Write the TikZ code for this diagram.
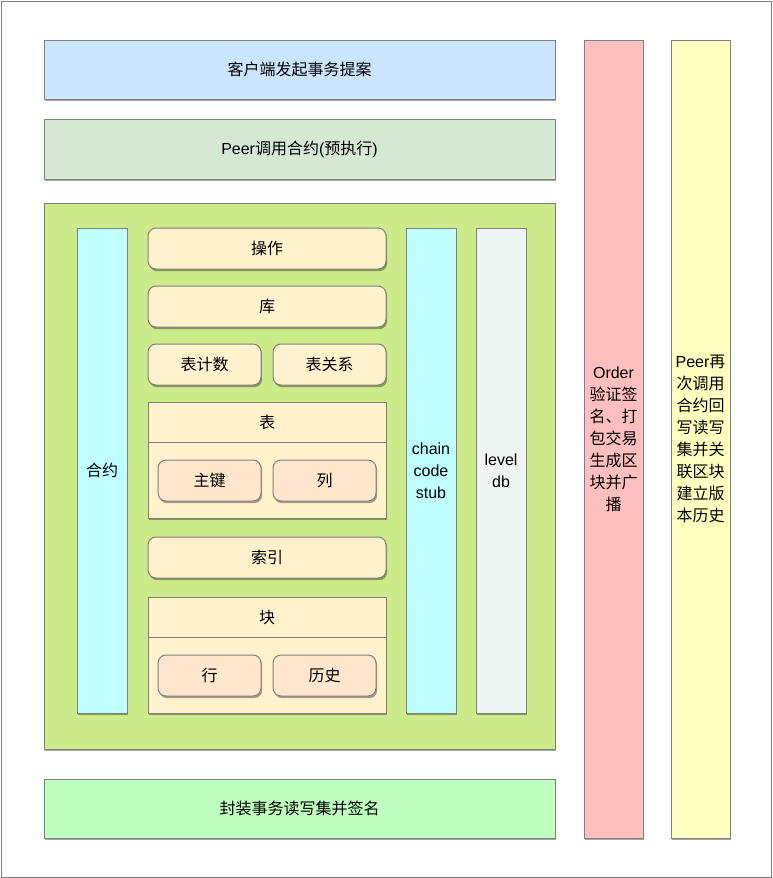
\documentclass[tikz,border=0pt]{standalone}
\usepackage{fontspec}
\setmainfont{Noto Sans CJK SC}
\newfontfamily\latinfont{Liberation Sans}
\usepackage{tikz}
\usetikzlibrary{shadows}
\usepackage{xcolor}
\definecolor{propblue}{HTML}{CCE5FF}
\definecolor{execgreen}{HTML}{D5E8D4}
\definecolor{boxgreen}{HTML}{CDEB8B}
\definecolor{stubcyan}{HTML}{BFFFFF}
\definecolor{itemyellow}{HTML}{FFF2CC}
\definecolor{itemorange}{HTML}{FFE6CC}
\definecolor{dbgray}{HTML}{EEF6F3}
\definecolor{signgreen}{HTML}{BFFFBF}
\definecolor{orderred}{HTML}{FFBFBF}
\definecolor{peeryellow}{HTML}{FFFFC0}
\definecolor{edgegray}{HTML}{808080}

\begin{document}
\begin{tikzpicture}[x=1pt,y=-1pt]
  \tikzset{stagebox/.style={rectangle,draw=edgegray,line width=1pt,inner sep=0pt,
      font=\fontsize{16}{22}\selectfont,align=center,
      drop shadow={shadow xshift=1.2pt,shadow yshift=-2.2pt,fill=black,opacity=0.35}}}
  \tikzset{colbox/.style={stagebox,minimum width=50pt,minimum height=485pt}}
  \tikzset{itembox/.style={stagebox,rounded corners=8pt,fill=itemyellow,minimum height=41pt}}
  \tikzset{subbox/.style={itembox,fill=itemorange,minimum width=103pt}}
  \tikzset{groupbox/.style={stagebox,fill=itemyellow,minimum width=238pt,minimum height=116pt}}
  \tikzset{headtext/.style={font=\fontsize{16}{22}\selectfont,inner sep=0pt,minimum height=41pt}}
  % frame
  \useasboundingbox (0,0) rectangle (772,878);
  \draw[edgegray,line width=0.8pt] (1,1) rectangle (771,877);
  % left column
  \node[stagebox,fill=propblue,minimum width=511pt,minimum height=59pt] (propose) at (299.5,69.5) {客户端发起事务提案};
  \node[stagebox,fill=execgreen,minimum width=511pt,minimum height=60pt] (preexec) at (299.5,149) {{\latinfont Peer}调用合约{\latinfont (}预执行{\latinfont )}};
  \node[stagebox,fill=boxgreen,minimum width=511pt,minimum height=546pt] (contractbox) at (299.5,476) {};
  \node[colbox,fill=stubcyan] (contract) at (102,470.5) {合约};
  \node[itembox,minimum width=238pt] (op) at (267,248.5) {操作};
  \node[itembox,minimum width=238pt] (lib) at (267,306.5) {库};
  \node[itembox,minimum width=113pt] (tabcount) at (204.5,364.5) {表计数};
  \node[itembox,minimum width=113pt] (tabrel) at (329.5,364.5) {表关系};
  \node[groupbox] (table) at (267,460) {};
  \node[headtext,anchor=north] (tabletitle) at (table.north) {表};
  \draw[edgegray,line width=1pt] (table.west |- tabletitle.south) -- (table.east |- tabletitle.south);
  \node[subbox] (pkey) at (209.5,480.5) {主键};
  \node[subbox] (col) at (324.5,480.5) {列};
  \node[itembox,minimum width=238pt] (index) at (267,557.5) {索引};
  \node[groupbox] (block) at (267,655) {};
  \node[headtext,anchor=north] (blocktitle) at (block.north) {块};
  \draw[edgegray,line width=1pt] (block.west |- blocktitle.south) -- (block.east |- blocktitle.south);
  \node[subbox] (row) at (209.5,675.5) {行};
  \node[subbox] (hist) at (324.5,675.5) {历史};
  \node[colbox,fill=stubcyan,font=\latinfont\fontsize{16}{22}\selectfont] (stub) at (431,470.5) {chain\\code\\stub};
  \node[colbox,fill=dbgray,font=\latinfont\fontsize{16}{22}\selectfont] (leveldb) at (501,470.5) {level\\db};
  \node[stagebox,fill=signgreen,minimum width=511pt,minimum height=59pt] (sign) at (299.5,808.5) {封装事务读写集并签名};
  % right columns
  \node[stagebox,fill=orderred,minimum width=59pt,minimum height=798pt] (order) at (613.5,439) {{\latinfont Order}\\验证签\\名、打\\包交易\\生成区\\块并广\\播};
  \node[stagebox,fill=peeryellow,minimum width=59pt,minimum height=798pt] (commit) at (700.5,439) {{\latinfont Peer}再\\次调用\\合约回\\写读写\\集并关\\联区块\\建立版\\本历史};
\end{tikzpicture}
\end{document}
